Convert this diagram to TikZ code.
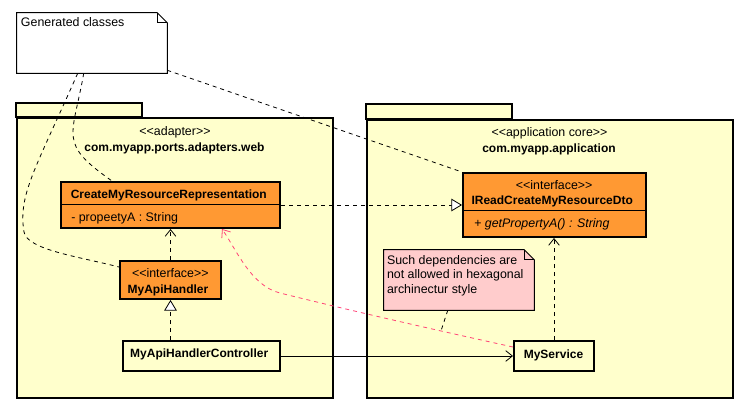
\documentclass[tikz,border=0pt]{standalone}
\usepackage{fontspec}
\setmainfont{Liberation Sans}
\usetikzlibrary{arrows.meta, calc}
\definecolor{PkgYellow}{HTML}{FFFFCC}
\definecolor{ClassOrange}{HTML}{FF9933}
\definecolor{NotePink}{HTML}{FFCCCC}
\definecolor{LinkPink}{HTML}{FF4477}
\newcommand{\umlstereo}[1]{<{}<#1>{}>}

\begin{document}
\begin{tikzpicture}[x=0.75pt, y=-0.75pt,
    font=\fontsize{9.3pt}{11pt}\selectfont,
    pkgbox/.style={draw, line width=1.5pt, fill=PkgYellow, inner sep=0pt},
    classbox/.style={draw, line width=1.5pt, fill=ClassOrange, inner sep=0pt},
    implbox/.style={draw, line width=1.5pt, fill=PkgYellow, inner sep=0pt},
    notebox/.style={inner sep=0pt},
    plain/.style={inner sep=0pt},
    bold/.style={inner sep=0pt, font=\fontsize{9pt}{11pt}\selectfont\bfseries},
    dashlink/.style={line width=0.6pt, dash pattern=on 3pt off 3pt},
    depend/.style={dashlink, -{Straight Barb[length=5pt, width=8pt]}},
    realize/.style={dashlink, -{Triangle[open, fill=white, length=8pt, width=9.5pt]}},
    assoc/.style={line width=0.6pt, -{Straight Barb[length=5pt, width=8pt]}}]
    \useasboundingbox (0,0) rectangle (749,420);
    % Packages
    \node[pkgbox, minimum width=237pt, minimum height=210pt] (pkgweb) at (175,258) {};
    \draw[pkgbox] (pkgweb.north west) rectangle ($(pkgweb.north west)+(126,-14)$);
    \node[plain, anchor=base] (pkgwebstereo) at (175,136) {\umlstereo{adapter}};
    \node[bold, anchor=base] (pkgwebname) at (174.5,152) {com.myapp.ports.adapters.web};
    \node[pkgbox, minimum width=274.5pt, minimum height=208.5pt] (pkgapp) at (550,259) {};
    \draw[pkgbox] (pkgapp.north west) rectangle ($(pkgapp.north west)+(146,-15)$);
    \node[plain, anchor=base] (pkgappstereo) at (549.5,137) {\umlstereo{application core}};
    \node[bold, anchor=base] (pkgappname) at (549,153) {com.myapp.application};
    % Notes
    \node[notebox, minimum width=112.5pt, minimum height=45pt] (gen) at (92,43) {};
    \draw[line width=0.75pt, fill=white] (gen.south west) -- (gen.north west) -- ($(gen.north east)+(-10,0)$) -- ($(gen.north east)+(0,10)$) -- (gen.south east) -- cycle;
    \draw[line width=0.75pt] ($(gen.north east)+(-10,0)$) |- ($(gen.north east)+(0,10)$);
    \node[plain, anchor=base west] (gentext) at ($(gen.north west)+(4,14)$) {Generated classes};
    \node[notebox, minimum width=112.5pt, minimum height=45pt] (forbid) at (459,280) {};
    \draw[line width=0.75pt, fill=NotePink] (forbid.south west) -- (forbid.north west) -- ($(forbid.north east)+(-10,0)$) -- ($(forbid.north east)+(0,10)$) -- (forbid.south east) -- cycle;
    \draw[line width=0.75pt] ($(forbid.north east)+(-10,0)$) |- ($(forbid.north east)+(0,10)$);
    \node[plain, anchor=base west] (forbidone) at ($(forbid.north west)+(3,14.3)$) {Such dependencies are};
    \node[plain, anchor=base west] (forbidtwo) at ($(forbid.north west)+(3,29.2)$) {not allowed in hexagonal};
    \node[plain, anchor=base west] (forbidthree) at ($(forbid.north west)+(3,44)$) {archinectur style};
    % Classes
    \node[classbox, minimum width=164.25pt, minimum height=34.5pt] (crr) at (170.5,205) {};
    \draw[line width=0.75pt] (crr.west) -- (crr.east);
    \node[bold, anchor=base] (crrname) at (168.8,199) {CreateMyResourceRepresentation};
    \node[plain, anchor=base west] (crrattr) at (71,222) {- propeetyA : String};
    \node[classbox, minimum width=75.75pt, minimum height=28.5pt] (mah) at (170.5,280) {};
    \node[plain, anchor=base] (mahstereo) at (170.3,277) {\umlstereo{interface}};
    \node[bold, anchor=base] (mahname) at (168,293) {MyApiHandler};
    \node[implbox, minimum width=117.75pt, minimum height=22.5pt] (ctrl) at (201.5,356) {};
    \node[bold, anchor=base] (ctrlname) at (199.2,357.6) {MyApiHandlerController};
    \node[classbox, minimum width=137.25pt, minimum height=48pt] (iread) at (554.5,205) {};
    \draw[line width=0.75pt] ($(iread.north west)+(0,39)$) -- ($(iread.north east)+(0,39)$);
    \node[plain, anchor=base] (ireadstereo) at (554.2,190) {\umlstereo{interface}};
    \node[bold, anchor=base] (ireadname) at (552.2,204.3) {IReadCreateMyResourceDto};
    \node[plain, anchor=base west] (ireadop) at (474,228) {+ \textit{getPropertyA() : String}};
    \node[implbox, minimum width=60pt, minimum height=22.5pt] (svc) at (554,356) {};
    \node[bold, anchor=base] (svcname) at (553.5,358.2) {MyService};
    % Class relations
    \draw[realize] (crr.east) -- (iread.west);
    \draw[depend] (mah.north) -- (crr.south);
    \draw[realize] (ctrl.north -| mah.south) -- (mah.south);
    \draw[assoc] (ctrl.east) -- (svc.west);
    \draw[depend] (svc.north) -- (svc.north |- iread.south);
    % Forbidden dependency
    \draw[depend, color=LinkPink] ($(svc.west)+(0,-9)$) .. controls +(-114,-25) and (320,303) .. (280,293) .. controls (251,286) and +(14,20) .. ($(crr.south east)+(-59,0)$);
    % Note anchors
    \coordinate (forbidanchor) at (441,331);
    \draw[dashlink] ($(forbid.south west)+(64,0)$) -- (forbidanchor);
    \draw[dashlink] ($(gen.south east)+(0,-3)$) -- (iread.north west);
    \draw[dashlink] ($(gen.south west)+(67,0)$) .. controls +(-11.5,65) and +(-54,-38) .. ($(crr.north west)+(52,0)$);
    \draw[dashlink] ($(gen.south west)+(61,0)$) .. controls +(-43,97) and (18,195) .. (24,232) .. controls (27,250) and +(-38,-10) .. ($(mah.north west)+(0,7)$);
\end{tikzpicture}
\end{document}
